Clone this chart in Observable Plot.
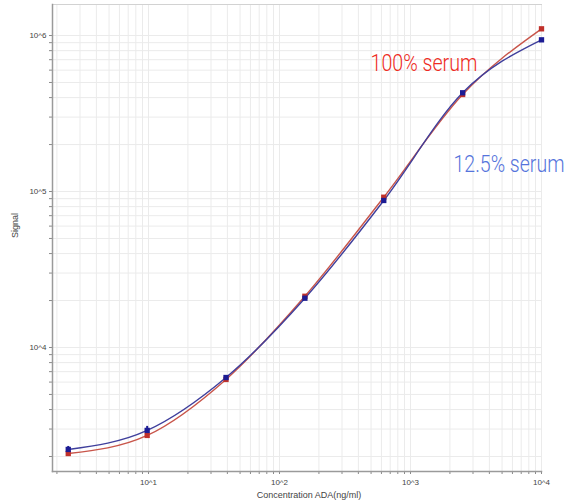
<!DOCTYPE html>
<html><head><meta charset="utf-8">
<script src="https://cdn.jsdelivr.net/npm/d3@7"></script>
<script src="https://cdn.jsdelivr.net/npm/@observablehq/plot@0.6"></script>
<style>
body{margin:0;background:#fff;}
#chart svg{display:block;}
</style>
</head><body><div id="chart"></div>
<script>
// Concentration ADA (ng/ml), 4-fold dilution series
const conc = [2.44, 9.77, 39.06, 156.25, 625, 2500, 10000];
// Signal, 100% serum
const serum100 = [2090, 2730, 6240, 21300, 91900, 418800, 1104000];
// Signal, 12.5% serum
const serum12 = [2220, 2940, 6420, 20700, 87600, 429500, 938500];
// error bars (12.5% serum) where visible
const errConc = [2.44, 9.77];
const errLo = [2120, 2770];
const errHi = [2320, 3120];

const seriesNames = ["100% serum", "12.5% serum"];
const lineColors = ["#c8554a", "#3f3f9c"];
const markColors = ["#c0302a", "#1c1c94"];
const labelColors = ["#ee2a22", "#5574dc"];

const xMajor = [10, 100, 1000, 10000];
const yMajor = [1e4, 1e5, 1e6];
const xDomain = [1.85, 10000];
const yDomain = [1603, 1581000];
const mult = [2, 3, 4, 5, 6, 7, 8, 9];
const xMinor = [1, 10, 100, 1000].flatMap(d => mult.map(m => d * m)).filter(v => v >= xDomain[0] && v <= xDomain[1]);
const yMinor = [1e3, 1e4, 1e5, 1e6].flatMap(d => mult.map(m => d * m)).filter(v => v >= yDomain[0] && v <= yDomain[1]);
const fmt = d => "10^" + Math.round(Math.log10(d));

const rows = [];
conc.forEach((c, i) => {
  rows.push({conc: c, signal: serum100[i], series: seriesNames[0]});
});
conc.forEach((c, i) => {
  rows.push({conc: c, signal: serum12[i], series: seriesNames[1]});
});
const errRows = errConc.map((c, i) => ({conc: c, lo: errLo[i], hi: errHi[i]}));

const labelFont = "Roboto, Liberation Sans, sans-serif";

const chart = Plot.plot({
  width: 568,
  height: 504,
  marginLeft: 52,
  marginRight: 27,
  marginTop: 4,
  marginBottom: 33,
  style: {fontFamily: "Liberation Sans, Arial, sans-serif", fontSize: "8px", color: "#444", background: "#fff"},
  x: {type: "log", domain: xDomain, label: null, axis: null},
  y: {type: "log", domain: yDomain, label: null, axis: null},
  marks: [
    Plot.gridX(xMinor.concat(xMajor), {stroke: "#ebebeb", strokeOpacity: 1}),
    Plot.gridY(yMinor.concat(yMajor), {stroke: "#ebebeb", strokeOpacity: 1}),
    Plot.frame({anchor: "top", stroke: "#d2d2d2"}),
    Plot.axisX(xMinor, {anchor: "bottom", tickSize: 3, tickFormat: () => "", stroke: "#8a8a8a"}),
    Plot.axisX(xMajor, {anchor: "bottom", tickSize: 3, tickPadding: 5, tickFormat: fmt, stroke: "#8a8a8a", fill: "#444", label: null}),
    Plot.axisY(yMinor, {anchor: "left", tickSize: 3, tickFormat: () => "", stroke: "#8a8a8a"}),
    Plot.axisY(yMajor, {anchor: "left", tickSize: 3, tickPadding: 3, tickFormat: fmt, stroke: "#8a8a8a", fill: "#444", label: null}),
    Plot.frame({anchor: "left", stroke: "#9a9a9a", strokeWidth: 1.5}),
    Plot.frame({anchor: "bottom", stroke: "#9a9a9a", strokeWidth: 1.5}),
    Plot.text(["Signal"], {frameAnchor: "left", dx: -37, rotate: -90, fontSize: 9, fill: "#444"}),
    Plot.text(["Concentration ADA(ng/ml)"], {frameAnchor: "bottom", dy: 26, dx: 12, fontSize: 9, fill: "#444"}),
    Plot.line(rows, {x: "conc", y: "signal", z: "series", stroke: d => lineColors[seriesNames.indexOf(d.series)], curve: "monotone-x", strokeWidth: 1.4}),
    Plot.ruleX(errRows, {x: "conc", y1: "lo", y2: "hi", stroke: markColors[1], strokeWidth: 2}),
    Plot.dot(rows, {x: "conc", y: "signal", symbol: "square", r: 3, fill: d => markColors[seriesNames.indexOf(d.series)], stroke: "none"}),
    Plot.text([seriesNames[0]], {frameAnchor: "top-left", dx: 318, dy: 50, textAnchor: "start", fontSize: 23, fontWeight: 300, fontFamily: labelFont, fill: labelColors[0]}),
    Plot.text([seriesNames[1]], {frameAnchor: "top-left", dx: 401, dy: 151, textAnchor: "start", fontSize: 23, fontWeight: 300, fontFamily: labelFont, fill: labelColors[1]})
  ]
});
document.getElementById("chart").appendChild(chart);
// squeeze the series labels horizontally to the narrow width they have in the reference
const targetWidths = [107, 111];
d3.select(chart).selectAll("text").each(function() {
  const k = seriesNames.indexOf(this.textContent);
  if (k < 0) return;
  const len = this.getComputedTextLength();
  const s = targetWidths[k] / len;
  const prev = this.getAttribute("transform") || "";
  this.setAttribute("transform", `${prev} scale(${s},1)`);
});
</script>
</body></html>
